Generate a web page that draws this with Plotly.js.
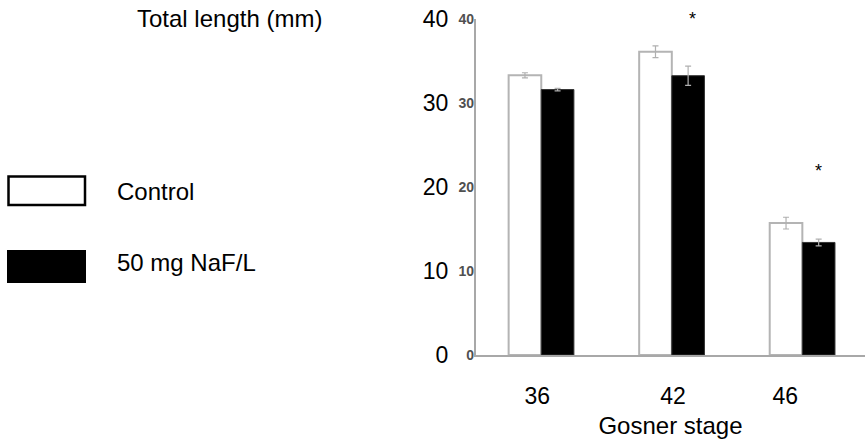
<!DOCTYPE html>
<html>
<head>
<meta charset="utf-8">
<script src="https://cdn.plot.ly/plotly-3.0.1.min.js"></script>
<style>html,body{margin:0;padding:0;background:#fff;}#chart{width:865px;height:439px;}</style>
</head>
<body>
<div id="chart"></div>
<script>
// ---- data ----
const stages = ["36", "42", "46"];
const controlMean = [33.3, 36.1, 15.7];
const controlErr  = [0.3, 0.7, 0.7];
const nafMean     = [31.6, 33.25, 13.4];
const nafErr      = [0.15, 1.15, 0.4];
const seriesNames = ["Control", "50 mg NaF/L"];
const yTicks = [0, 10, 20, 30, 40];
const yTickText = ["0", "10", "20", "30", "40"];

// ---- layout helpers ----
const W = 865, H = 439;
const L = 476, R = 0, T = 19, B = 84;
const pw = W - L - R, ph = H - T - B;
const px = v => (v - L) / pw;
const py = v => (H - B - v) / ph;
const FONT = "Arial, 'Liberation Sans', sans-serif";

const traces = [
  {
    type: "bar", name: seriesNames[0], x: stages, y: controlMean,
    marker: {color: "#ffffff", line: {color: "#b4b4b4", width: 2}},
    error_y: {type: "data", array: controlErr, visible: true, color: "#b0b0b0", thickness: 1.2, width: 3},
    showlegend: false, hoverinfo: "skip"
  },
  {
    type: "bar", name: seriesNames[1], x: stages, y: nafMean,
    marker: {color: "#000000", line: {color: "#333333", width: 1}},
    error_y: {type: "data", array: nafErr, visible: true, color: "#b0b0b0", thickness: 1.2, width: 3},
    showlegend: false, hoverinfo: "skip"
  },
  {type: "scatter", x: [], y: [], xaxis: "x2", yaxis: "y", showlegend: false},
  {type: "scatter", x: [], y: [], xaxis: "x", yaxis: "y2", showlegend: false}
];

const layout = {
  width: W, height: H,
  margin: {l: L, r: R, t: T, b: B, pad: 0},
  paper_bgcolor: "#fff", plot_bgcolor: "#fff",
  font: {family: FONT, color: "#000"},
  barmode: "group", bargap: 0.5, bargroupgap: 0,
  showlegend: false,
  xaxis: {
    type: "category", range: [-0.5, 2.48], showticklabels: false,
    showline: true, linecolor: "#a8a8a8", linewidth: 2, ticks: "",
    showgrid: false, zeroline: false, fixedrange: true
  },
  xaxis2: {
    overlaying: "x", anchor: "y", side: "bottom", type: "linear",
    range: [-0.5, 2.48], tickvals: [-0.03, 1.01, 1.87], ticktext: stages,
    showline: false, showgrid: false, zeroline: false, ticks: "",
    tickfont: {size: 23, family: FONT, color: "#000"},
    ticklabelstandoff: 25,
    title: {text: "Gosner stage", font: {size: 24, family: FONT, color: "#000"}, standoff: 9}
  },
  yaxis: {
    range: [0, 40], tickvals: yTicks, ticktext: yTickText,
    showline: true, linecolor: "#a8a8a8", linewidth: 2, ticks: "",
    showgrid: false, zeroline: false,
    tickfont: {size: 23, family: FONT, color: "#000"},
    ticklabelstandoff: 21
  },
  yaxis2: {
    overlaying: "y", anchor: "x", side: "left",
    range: [0, 40], tickvals: yTicks, ticktext: yTickText,
    showline: false, showgrid: false, zeroline: false, ticks: "",
    tickfont: {size: 14, family: FONT, color: "#505050", weight: "bold"},
    ticklabelstandoff: 1
  },
  shapes: [
    {type: "rect", xref: "paper", yref: "paper", x0: px(8.5), x1: px(85), y0: py(205), y1: py(176.5),
     line: {color: "#000", width: 2.5}, fillcolor: "#fff"},
    {type: "rect", xref: "paper", yref: "paper", x0: px(7), x1: px(86), y0: py(283), y1: py(250),
     line: {color: "#000", width: 0}, fillcolor: "#000"}
  ],
  annotations: [
    {text: "Total length (mm)", xref: "paper", yref: "paper", x: px(135), y: py(18),
     xanchor: "left", yanchor: "middle", showarrow: false, font: {size: 24, family: FONT, color: "#000"}},
    {text: seriesNames[0], xref: "paper", yref: "paper", x: px(115), y: py(192),
     xanchor: "left", yanchor: "middle", showarrow: false, font: {size: 24, family: FONT, color: "#000"}},
    {text: seriesNames[1], xref: "paper", yref: "paper", x: px(115), y: py(262),
     xanchor: "left", yanchor: "middle", showarrow: false, font: {size: 24, family: FONT, color: "#000"}},
    {text: "*", xref: "paper", yref: "paper", x: px(692), y: py(19),
     xanchor: "center", yanchor: "middle", showarrow: false, font: {size: 18, family: FONT, color: "#000"}},
    {text: "*", xref: "paper", yref: "paper", x: px(818), y: py(171),
     xanchor: "center", yanchor: "middle", showarrow: false, font: {size: 18, family: FONT, color: "#000"}}
  ]
};

Plotly.newPlot("chart", traces, layout, {staticPlot: true, displayModeBar: false});
</script>
</body>
</html>
